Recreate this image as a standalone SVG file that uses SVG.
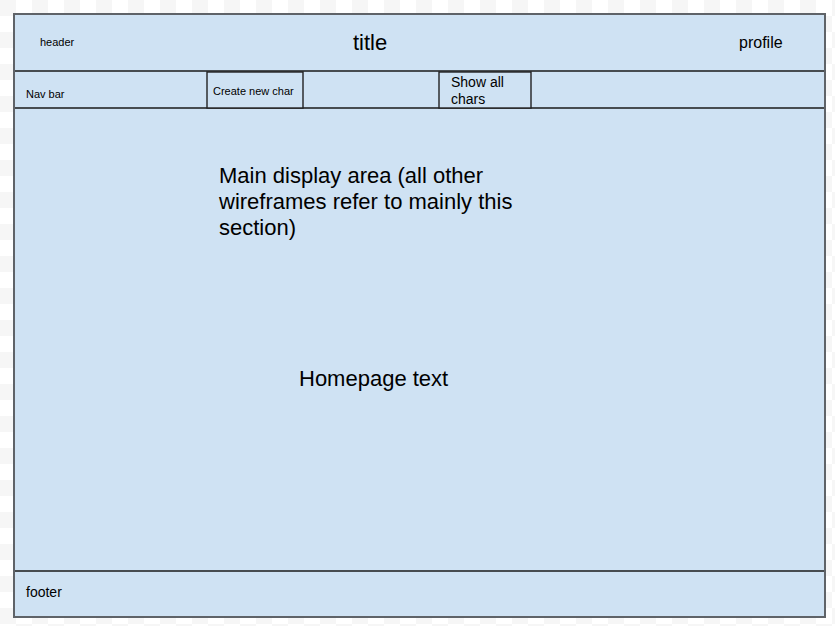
<svg xmlns="http://www.w3.org/2000/svg" width="835" height="626" viewBox="0 0 835 626">
  <defs>
    <pattern id="checker" width="32" height="32" patternUnits="userSpaceOnUse">
      <rect width="32" height="32" fill="#ffffff"/>
      <rect x="0" y="0" width="16" height="16" fill="#f6f6f6"/>
      <rect x="16" y="16" width="16" height="16" fill="#f6f6f6"/>
    </pattern>
  </defs>
  <style>
    .panel { fill: #cfe2f3; }
    .frame { fill: none; stroke: #5f6368; stroke-width: 2; }
    .rule { stroke: #1a1a1a; stroke-width: 1.3; fill: none; }
    .box { fill: #cfe2f3; stroke: #222222; stroke-width: 1.4; }
    text { font-family: "Liberation Sans", Arial, sans-serif; fill: #000000; }
  </style>

  <rect width="835" height="626" fill="url(#checker)"/>

  <!-- page body -->
  <g id="page">
    <rect class="panel" x="14" y="14" width="811" height="603"/>
  </g>

  <!-- section dividers -->
  <g id="dividers">
    <line class="rule" x1="14" y1="71" x2="825" y2="71"/>
    <line class="rule" x1="14" y1="108" x2="825" y2="108"/>
    <line class="rule" x1="14" y1="571" x2="825" y2="571"/>
  </g>

  <g id="header">
    <text x="40" y="46" font-size="11">header</text>
    <text x="370" y="50" font-size="22" text-anchor="middle">title</text>
    <text x="739" y="48" font-size="16">profile</text>
  </g>

  <g id="navbar">
    <text x="26" y="98" font-size="11">Nav bar</text>
  </g>

  <g id="create-new-char">
    <rect class="box" x="207" y="72" width="96" height="36"/>
    <text x="213" y="95" font-size="11">Create new char</text>
  </g>

  <g id="show-all-chars">
    <rect class="box" x="439" y="72" width="92" height="36"/>
    <text x="451" y="87" font-size="14">Show all</text>
    <text x="451" y="104" font-size="14">chars</text>
  </g>

  <g id="main-display">
    <text x="219" y="183" font-size="22">Main display area (all other</text>
    <text x="219" y="209" font-size="22">wireframes refer to mainly this</text>
    <text x="219" y="235" font-size="22">section)</text>
    <text x="299" y="386" font-size="22">Homepage text</text>
  </g>

  <g id="footer">
    <text x="26" y="597" font-size="14">footer</text>
  </g>

  <!-- outer frame drawn last so it sits above the fills -->
  <rect class="frame" x="14" y="14" width="811" height="603"/>
</svg>
